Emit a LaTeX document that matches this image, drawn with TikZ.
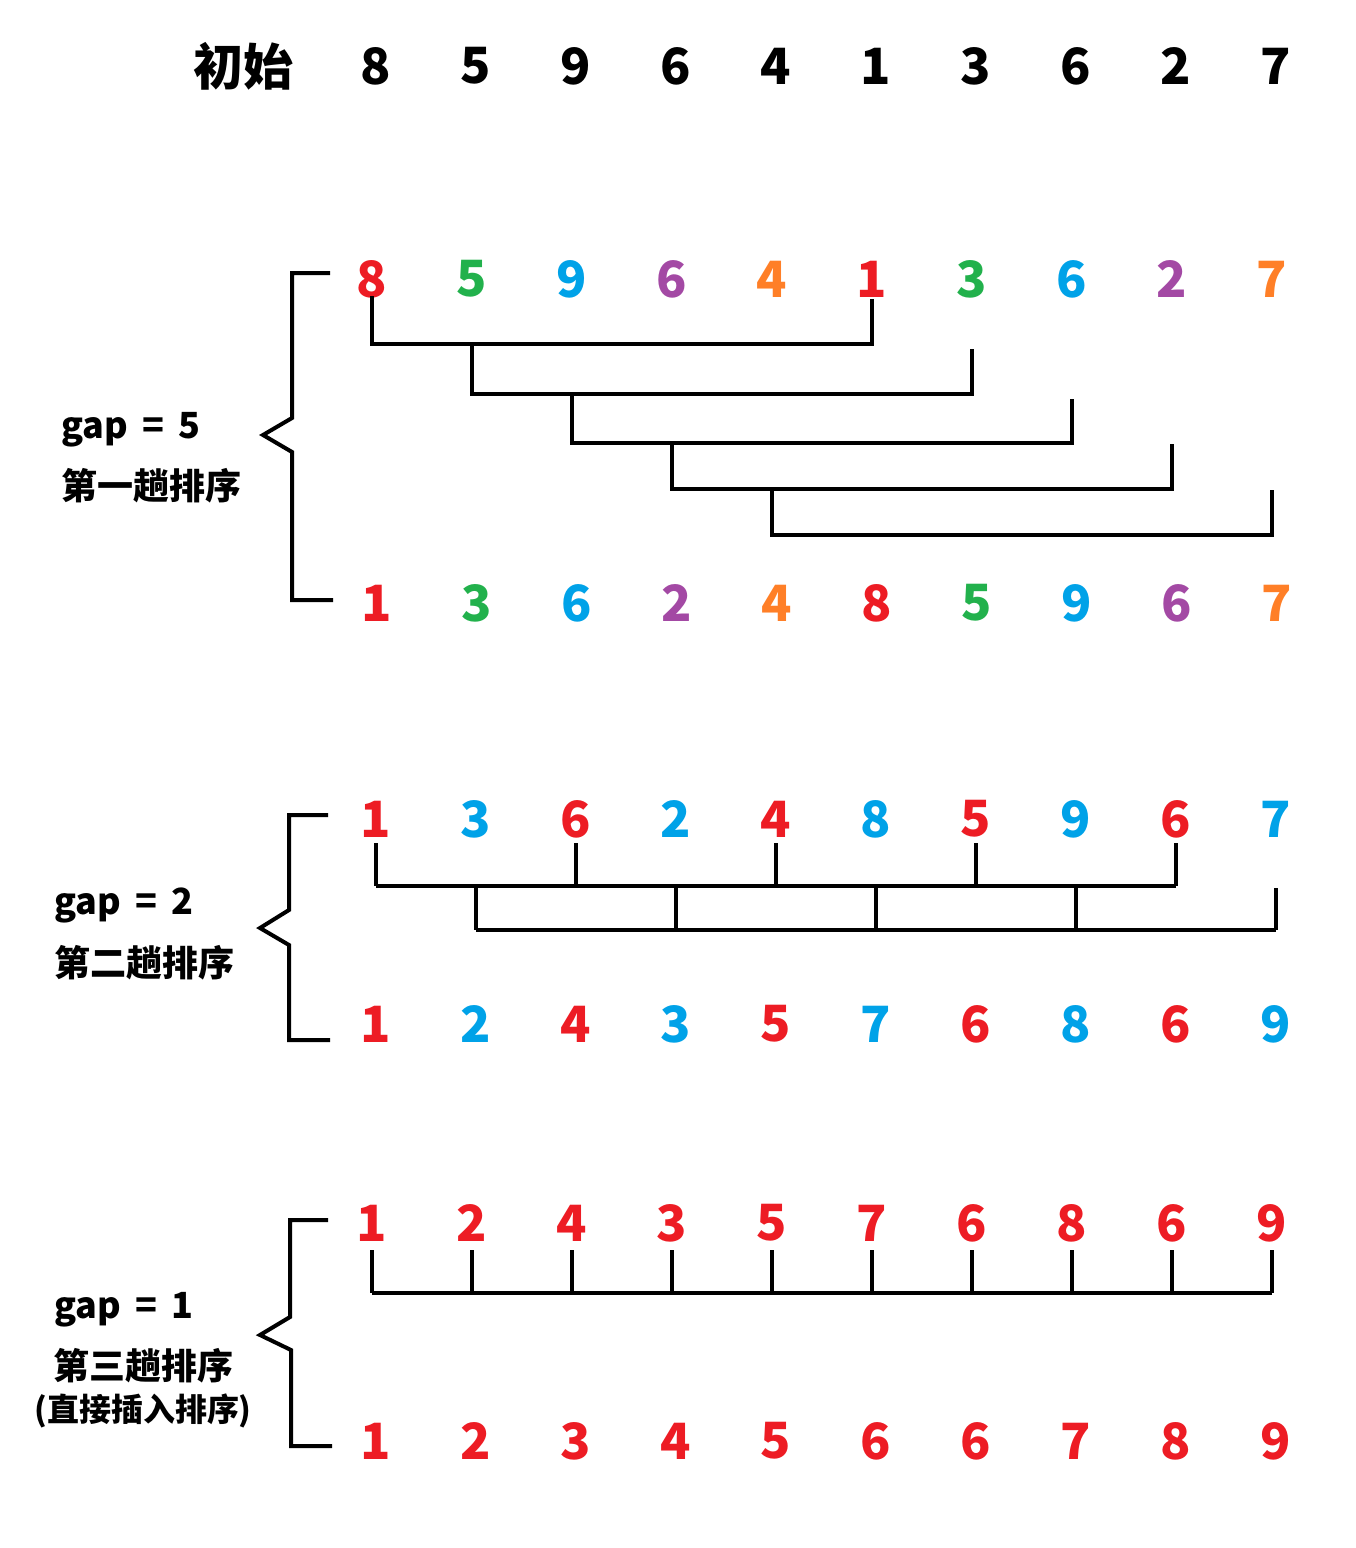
\documentclass[tikz,border=0pt]{standalone}
\usepackage{fontspec}
\setmainfont{Noto Sans CJK SC}
\usepackage{xcolor}
\definecolor{paintred}{HTML}{ED1C24}
\definecolor{paintgreen}{HTML}{22B14C}
\definecolor{paintblue}{HTML}{00A2E8}
\definecolor{paintpurple}{HTML}{A349A4}
\definecolor{paintorange}{HTML}{FF7F27}
\newcommand{\gapeq}[1]{gap\hspace{0.4em}=\hspace{0.4em}#1}

\begin{document}
\begin{tikzpicture}[
  x=1pt,
  y=-1pt,
  every node/.style={inner sep=1pt, black},
  digit/.style={font=\fontsize{50}{50}\selectfont\bfseries, anchor=center},
  passtext/.style={font=\fontsize{36}{36}\selectfont\bfseries, anchor=base west},
  smalltext/.style={font=\fontsize{32}{32}\selectfont\bfseries, anchor=base},
  link/.style={black, line width=4pt},
  brace/.style={black, line width=4pt, line join=miter}
]
  \useasboundingbox (0,0) rectangle (1356,1548);

  % ---- initial row ----
  \node[digit] (init) at (243,66) {初始};
  \foreach \v [count=\i from 0] in {8,5,9,6,4,1,3,6,2,7}
    \node[digit] (s\i) at (376+100*\i,66) {\v};

  % ---- gap = 5 : rows ----
  \foreach \v/\c [count=\i from 0] in {8/paintred,5/paintgreen,9/paintblue,6/paintpurple,4/paintorange,
                                       1/paintred,3/paintgreen,6/paintblue,2/paintpurple,7/paintorange}
    \node[digit, text=\c] (a\i) at (372+100*\i,279) {\v};
  \foreach \v/\c [count=\i from 0] in {1/paintred,3/paintgreen,6/paintblue,2/paintpurple,4/paintorange,
                                       8/paintred,5/paintgreen,9/paintblue,6/paintpurple,7/paintorange}
    \node[digit, text=\c] (b\i) at (377+100*\i,603) {\v};

  % ---- gap = 5 : pairs (i, i+5) ----
  \draw[link] (a0 |- 0,296) -- (a0 |- 0,344) -| (a5 |- 0,299);
  \draw[link] (a1 |- 0,346) -- (a1 |- 0,394) -| (a6 |- 0,349);
  \draw[link] (a2 |- 0,396) -- (a2 |- 0,443) -| (a7 |- 0,399);
  \draw[link] (a3 |- 0,445) -- (a3 |- 0,489) -| (a8 |- 0,444);
  \draw[link] (a4 |- 0,491) -- (a4 |- 0,535) -| (a9 |- 0,490);

  \draw[brace] (330,273) -- (292,273) -- (292,418) -- (263,435)
    -- (292,452) -- (292,600) -- (333,600);
  \node[passtext] (g1) at (60,438) {\gapeq{5}};
  \node[passtext] (t1) at (60,499) {第一趟排序};

  % ---- gap = 2 : rows ----
  \foreach \v/\c [count=\i from 0] in {1/paintred,3/paintblue,6/paintred,2/paintblue,4/paintred,
                                       8/paintblue,5/paintred,9/paintblue,6/paintred,7/paintblue}
    \node[digit, text=\c] (c\i) at (376+100*\i,819) {\v};
  \foreach \v/\c [count=\i from 0] in {1/paintred,2/paintblue,4/paintred,3/paintblue,5/paintred,
                                       7/paintblue,6/paintred,8/paintblue,6/paintred,9/paintblue}
    \node[digit, text=\c] (d\i) at (376+100*\i,1024) {\v};

  % ---- gap = 2 : two groups ----
  \draw[link] (c0 |- 0,886) -- (c8 |- 0,886);
  \foreach \i in {0,2,4,6,8}
    \draw[link] (c\i |- 0,843) -- (c\i |- 0,886);
  \draw[link] (c1 |- 0,930) -- (c9 |- 0,930);
  \foreach \i in {1,3,5,7,9}
    \draw[link] (c\i |- 0,888) -- (c\i |- 0,930);

  \draw[brace] (328,815) -- (289,815) -- (289,910) -- (260,928)
    -- (289,945) -- (289,1040) -- (330,1040);
  \node[passtext] (g2) at (53,914) {\gapeq{2}};
  \node[passtext] (t2) at (53,976) {第二趟排序};

  % ---- gap = 1 : rows ----
  \foreach \v [count=\i from 0] in {1,2,4,3,5,7,6,8,6,9}
    \node[digit, text=paintred] (e\i) at (372+100*\i,1223) {\v};
  \foreach \v [count=\i from 0] in {1,2,3,4,5,6,6,7,8,9}
    \node[digit, text=paintred] (f\i) at (376+100*\i,1441) {\v};

  % ---- gap = 1 : one group ----
  \draw[link] (e0 |- 0,1293) -- (e9 |- 0,1293);
  \foreach \i in {0,...,9}
    \draw[link] (e\i |- 0,1250) -- (e\i |- 0,1293);

  \draw[brace] (328,1220) -- (290,1220) -- (290,1317) -- (260,1335)
    -- (291,1350) -- (291,1446) -- (332,1446);
  \node[passtext] (g3) at (53,1318) {\gapeq{1}};
  \node[passtext, anchor=base] (t3) at (143,1379) {第三趟排序};
  \node[smalltext] (t3b) at (143,1421) {(直接插入排序)};
\end{tikzpicture}
\end{document}
